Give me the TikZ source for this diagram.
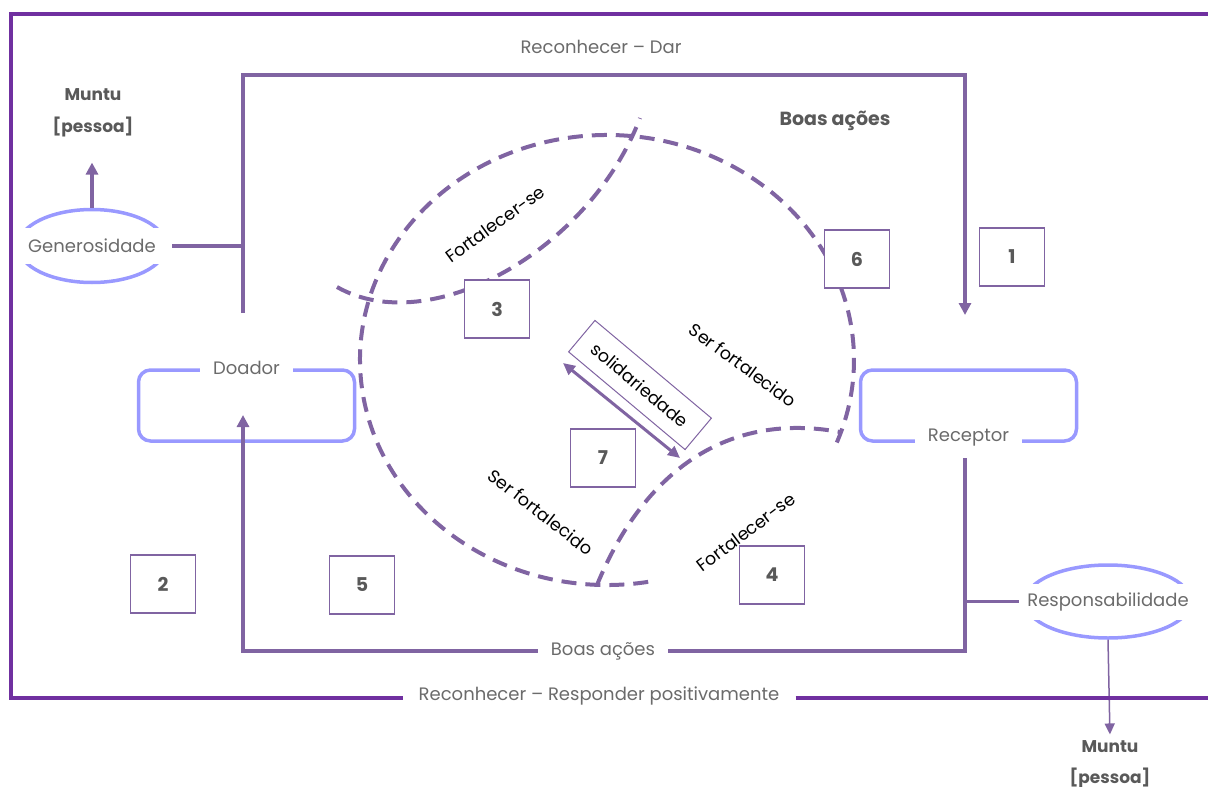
\documentclass[tikz,border=0pt]{standalone}
\usepackage{fontspec}
\setmainfont{Poppins}
\usetikzlibrary{arrows.meta, shapes.geometric, positioning}

\definecolor{framepurple}{HTML}{7030A0}
\definecolor{linepurple}{HTML}{8064A2}
\definecolor{softblue}{HTML}{9999FF}
\definecolor{txtgray}{HTML}{6B6B6B}
\definecolor{darkgray}{HTML}{595959}

\tikzset{
  frame/.style={framepurple, line width=4pt},
  flowline/.style={linepurple, line width=3.5pt},
  lens/.style={linepurple, line width=4pt, dash pattern=on 15pt off 9pt},
  lbl/.style={font=\fontsize{18}{21}\selectfont, text=txtgray, fill=white, inner sep=2pt},
  person/.style={font=\fontsize{17}{20}\selectfont\bfseries, text=darkgray},
  note/.style={font=\fontsize{17.5}{20}\selectfont, text=black},
  numbox/.style={draw=linepurple, line width=1.5pt, fill=white, minimum width=65pt,
    minimum height=58pt, font=\fontsize{19}{22}\selectfont\bfseries, text=darkgray},
  actor/.style={draw=softblue, line width=3.5pt, rounded corners=12pt,
    minimum width=216pt, minimum height=71pt},
  oval/.style={draw=softblue, line width=3.5pt, ellipse, inner sep=0pt},
  tip/.style={-{Triangle[length=12pt,width=12pt]}},
}

\begin{document}
\begin{tikzpicture}[x=1pt, y=-1pt]
\useasboundingbox (0,0) rectangle (1208,787);

% corners of the frames
\coordinate (otl) at (11,14);
\coordinate (otr) at (1208,14);
\coordinate (obr) at (1208,698);
\coordinate (tl) at (243,75);
\coordinate (tr) at (965,75);
\coordinate (bl) at (243,651);
\coordinate (br) at (965,651);
\coordinate (lstub) at (243,313);
\coordinate (rtip) at (965,315);
\coordinate (rstub) at (965,458);
\coordinate (ltip) at (243,415);

% the circle and the two lenses
\coordinate (c) at (607,360);
\draw[lens] (c) ++(80.4:247 and 225) arc[start angle=80.4, end angle=382, x radius=247, y radius=225];
\draw[lens] (337,287) .. controls (430,340) and (590,250) .. (640,118);
\draw[lens] (597,585) .. controls (640,480) and (720,410) .. (840,432);

\node[note, rotate=36] (fortA) at (495,224) {Fortalecer-se};
\node[note, rotate=-36] (serA) at (743,365) {Ser fortalecido};
\node[note, rotate=-38] (serB) at (541,512) {Ser fortalecido};
\node[note, rotate=37] (fortB) at (746,532) {Fortalecer-se};

% doador and receptor
\node[actor] (doador) at (246.5,405.5) {};
\node[actor] (receptor) at (968.5,405.5) {};
\node[lbl, inner xsep=13pt] (doadorlbl) at (doador.north) {Doador};
\node[lbl, inner xsep=13pt] (receptorlbl) at ([yshift=5pt]receptor.south) {Receptor};

% values
\node[oval, minimum width=148pt, minimum height=73pt] (genoval) at (92,246) {};
\node[lbl, minimum width=156pt, minimum height=36pt] (gen) at (genoval) {Generosidade};
\node[oval, minimum width=166pt, minimum height=73pt] (respoval) at (1108,601.5) {};
\node[lbl, minimum width=174pt, minimum height=36pt] (resp) at (respoval) {Responsabilidade};

\node[person] (muntuL) at (93,95) {Muntu};
\node[person] (pessoaL) at (93,127) {[pessoa]};
\node[person] (muntuR) at (1110,747) {Muntu};
\node[person] (pessoaR) at (1110,778) {[pessoa]};

\draw[flowline, tip, shorten >=22pt] (genoval.north) -- (genoval.north |- pessoaL.south);
\draw[linepurple, line width=1.5pt, -{Triangle[length=11pt,width=10pt]}, shorten >=3pt] (respoval.south) -- (muntuR.north);

% inner loop
\node[lbl, inner xsep=13pt] (boasB) at (603,651) {Boas ações};
\node[person, font=\fontsize{19}{22}\selectfont\bfseries] (boasT) at (835,121) {Boas ações};
\draw[flowline, tip] (lstub) -- (tl) -- (tr) -- (rtip);
\draw[flowline] (rstub) -- (br) -- (boasB.east);
\draw[flowline, tip] (boasB.west) -- (bl) -- (ltip);
\draw[flowline, shorten <=2pt] (gen.east) -- (gen.east -| tl);
\draw[flowline, shorten >=2pt] (rstub |- resp) -- (resp.west);

% outer frame
\node[lbl] (recdar) at (601,47) {Reconhecer – Dar};
\node[lbl, inner xsep=16pt] (recresp) at (599,696) {Reconhecer – Responder positivamente};
\draw[frame] (recresp.west |- obr) -| (otl) -- (otr);
\draw[frame] (recresp.east |- obr) -- (obr);

% numbered boxes
\node[numbox] (n1) at (1012,257) {1};
\node[numbox] (n2) at (163,584) {2};
\node[numbox] (n3) at (497,309) {3};
\node[numbox] (n4) at (772,575) {4};
\node[numbox] (n5) at (362,585) {5};
\node[numbox] (n6) at (857,259) {6};
\node[numbox] (n7) at (603,458) {7};

% solidariedade
\node[note, draw=linepurple, line width=1pt, fill=white, rotate=-40,
  minimum width=152pt, minimum height=41pt] (solid) at (640,385) {solidariedade};
\coordinate (solidA) at (563,363);
\coordinate (solidB) at (680,458);
\draw[linepurple, line width=3pt, {Triangle[length=12pt,width=11pt]}-{Triangle[length=12pt,width=11pt]}] (solidA) -- (solidB);
\end{tikzpicture}
\end{document}
